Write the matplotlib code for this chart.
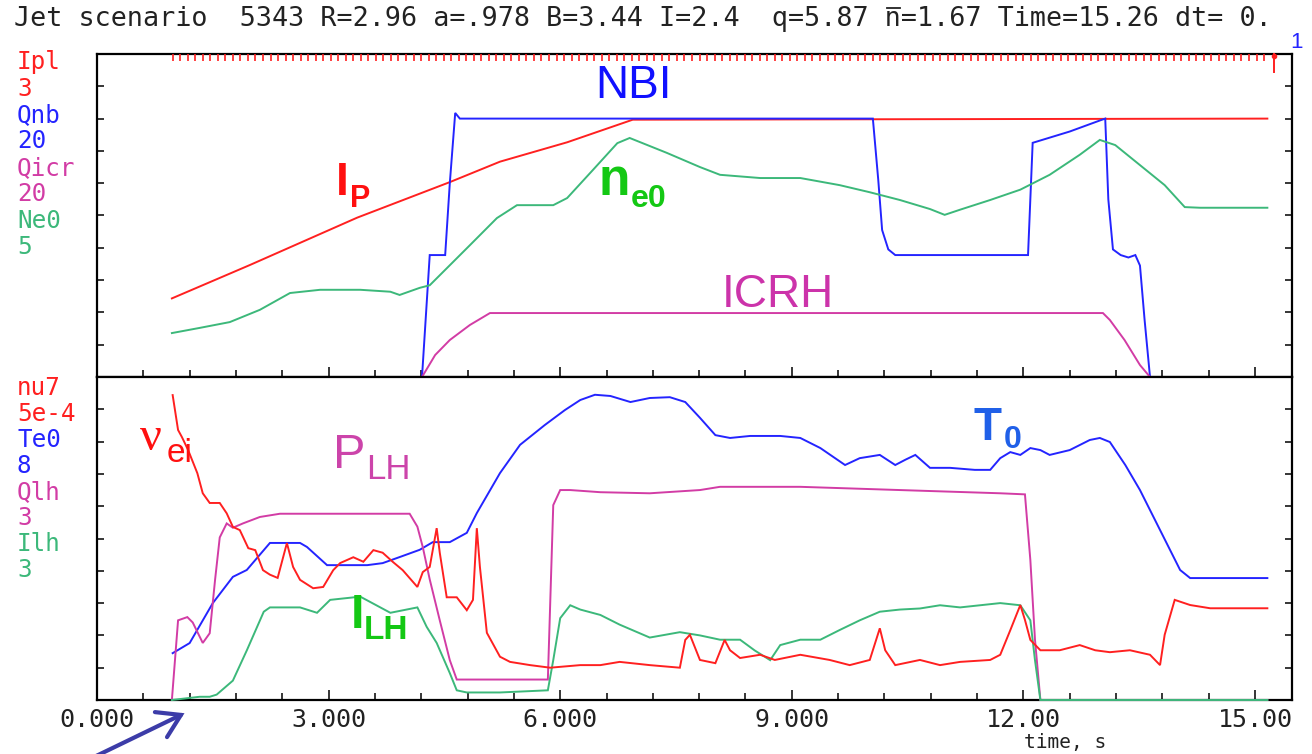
import numpy as np
import matplotlib
matplotlib.use("Agg")
import matplotlib.pyplot as plt
from matplotlib.ticker import MultipleLocator
from matplotlib.lines import Line2D

# ---------------- data (physical units) ----------------
t_ipl = [0.97, 1.98, 3.37, 4.57, 5.22, 6.09, 6.94, 15.16]
ipl = [0.73, 1.04, 1.48, 1.81, 2.00, 2.18, 2.39, 2.40]

t_qnb = [0.97, 4.21, 4.31, 4.51, 4.57, 4.64, 4.70, 10.05, 10.12, 10.17, 10.25, 10.34,
         12.06, 12.12, 12.60, 13.00, 13.06, 13.10, 13.16, 13.26, 13.36, 13.45, 13.51,
         13.57, 13.64, 15.16]
qnb = [0.0, 0.0, 7.55, 7.55, 12.0, 16.35, 16.0, 16.0, 12.2, 9.1, 7.9, 7.55,
       7.55, 14.5, 15.2, 15.9, 16.0, 11.0, 7.9, 7.55, 7.4, 7.55, 6.9,
       3.53, 0.0, 0.0]

t_qicr = [0.97, 4.21, 4.38, 4.57, 4.83, 5.09, 13.03, 13.12, 13.31, 13.51, 13.64, 15.16]
qicr = [0.0, 0.0, 1.36, 2.29, 3.22, 3.96, 3.96, 3.53, 2.29, 0.74, 0.0, 0.0]

t_ne0 = [0.97, 1.33, 1.72, 2.11, 2.50, 2.89, 3.41, 3.80, 3.92, 4.18, 4.31, 4.57, 4.83,
         5.18, 5.44, 5.91, 6.09, 6.42, 6.74, 6.90, 7.38, 7.81, 8.07, 8.59, 9.11, 9.62,
         10.01, 10.40, 10.79, 10.98, 11.18, 11.57, 11.96, 12.34, 12.73, 12.99, 13.19,
         13.51, 13.83, 14.09, 14.29, 15.16]
ne0 = [0.68, 0.76, 0.85, 1.04, 1.30, 1.35, 1.35, 1.32, 1.27, 1.38, 1.42, 1.73, 2.04,
       2.46, 2.66, 2.66, 2.77, 3.20, 3.62, 3.70, 3.47, 3.25, 3.13, 3.08, 3.08, 2.97,
       2.86, 2.74, 2.60, 2.51, 2.59, 2.74, 2.90, 3.13, 3.44, 3.67, 3.59,
       3.28, 2.97, 2.63, 2.62, 2.62]

t_nu = [0.98, 1.05, 1.10, 1.18, 1.30, 1.37, 1.46, 1.59, 1.68, 1.76, 1.85, 1.96, 2.05,
        2.15, 2.24, 2.34, 2.46, 2.54, 2.63, 2.80, 2.93, 3.06, 3.15, 3.32, 3.45, 3.58,
        3.70, 3.83, 3.96, 4.15, 4.22, 4.31, 4.40, 4.44, 4.53, 4.66, 4.79, 4.87, 4.92,
        4.96, 5.05, 5.22, 5.35, 5.61, 5.87, 6.26, 6.52, 6.77, 7.16, 7.55, 7.62, 7.68,
        7.81, 8.01, 8.13, 8.20, 8.33, 8.59, 8.78, 9.11, 9.49, 9.75, 10.01, 10.14, 10.21,
        10.34, 10.66, 10.92, 11.18, 11.57, 11.70, 11.83, 11.96, 12.02, 12.09, 12.22,
        12.47, 12.73, 12.93, 13.12, 13.38, 13.64, 13.77, 13.83, 13.96, 14.16, 14.42,
        14.81, 15.16]
nu7_e4 = [4.72, 4.18, 4.07, 3.87, 3.51, 3.20, 3.05, 3.05, 2.89, 2.68, 2.63, 2.35, 2.32,
          2.01, 1.94, 1.89, 2.43, 2.06, 1.86, 1.73, 1.75, 2.01, 2.12, 2.21, 2.14, 2.32,
          2.28, 2.14, 2.01, 1.75, 1.98, 2.06, 2.66, 2.28, 1.59, 1.59, 1.39, 1.55, 2.66,
          2.06, 1.04, 0.67, 0.59, 0.54, 0.50, 0.54, 0.54, 0.59, 0.54, 0.50, 0.93, 1.01,
          0.62, 0.57, 0.93, 0.77, 0.65, 0.70, 0.62, 0.70, 0.62, 0.54, 0.62, 1.11, 0.77,
          0.54, 0.62, 0.54, 0.59, 0.62, 0.70, 1.08, 1.47, 1.24, 0.93, 0.77,
          0.77, 0.85, 0.77, 0.74, 0.77, 0.70, 0.54, 1.01, 1.55, 1.47, 1.42,
          1.42, 1.42]
nu7 = [v * 1e-4 for v in nu7_e4]

t_te = [0.98, 1.20, 1.50, 1.76, 1.94, 2.24, 2.63, 2.72, 2.98, 3.50, 3.70, 3.92, 4.18,
        4.35, 4.57, 4.79, 4.92, 5.22, 5.48, 5.80, 6.06, 6.26, 6.45, 6.65, 6.91, 7.16,
        7.42, 7.62, 7.81, 8.01, 8.20, 8.46, 8.85, 9.11, 9.37, 9.69, 9.88, 10.14, 10.34,
        10.47, 10.60, 10.79, 11.05, 11.37, 11.57, 11.70, 11.83, 11.96, 12.09, 12.22,
        12.34, 12.60, 12.86, 12.99, 13.12, 13.32, 13.51, 13.77, 14.03, 14.16, 15.16]
te0 = [1.16, 1.41, 2.40, 3.05, 3.22, 3.89, 3.89, 3.79, 3.34, 3.34, 3.39, 3.54, 3.72,
       3.91, 3.91, 4.14, 4.63, 5.62, 6.32, 6.81, 7.18, 7.43, 7.56, 7.53, 7.38, 7.48,
       7.50, 7.38, 6.99, 6.56, 6.49, 6.54, 6.54, 6.49, 6.24, 5.82, 5.99, 6.07, 5.82,
       5.95, 6.07, 5.75, 5.75, 5.70, 5.70, 5.99, 6.14, 6.07, 6.24, 6.19,
       6.07, 6.19, 6.44, 6.49, 6.39, 5.82, 5.20, 4.21, 3.22, 3.02, 3.02]

t_qlh = [0.97, 1.05, 1.17, 1.24, 1.37, 1.46, 1.53, 1.59, 1.68, 1.76, 1.89, 2.11, 2.37,
         4.05, 4.15, 4.22, 4.31, 4.44, 4.57, 4.66, 5.84, 5.91, 6.00, 6.13, 6.52, 7.16,
         7.81, 8.07, 9.11, 10.40, 11.70, 12.02, 12.09, 12.15, 12.22, 15.16]
qlh = [0.0, 0.74, 0.77, 0.72, 0.53, 0.62, 1.12, 1.51, 1.64, 1.60, 1.64, 1.70, 1.73,
       1.73, 1.61, 1.42, 1.12, 0.74, 0.37, 0.19, 0.19, 1.81, 1.95, 1.95, 1.93, 1.92,
       1.95, 1.98, 1.98, 1.95, 1.92, 1.91, 1.30, 0.56, 0.0, 0.0]

t_ilh = [0.97, 1.33, 1.46, 1.55, 1.76, 1.94, 2.16, 2.24, 2.63, 2.85, 3.02, 3.41, 3.80,
         4.15, 4.27, 4.40, 4.57, 4.66, 4.79, 5.22, 5.84, 5.91, 6.00, 6.13, 6.26, 6.52,
         6.77, 7.16, 7.55, 7.81, 8.07, 8.33, 8.52, 8.72, 8.85, 9.11, 9.37, 9.62, 9.88,
         10.14, 10.40, 10.66, 10.92, 11.18, 11.44, 11.70, 11.96, 12.09, 12.15, 12.22, 15.16]
ilh = [0.0, 0.03, 0.03, 0.05, 0.18, 0.46, 0.82, 0.86, 0.86, 0.81, 0.93, 0.96, 0.81,
       0.86, 0.68, 0.53, 0.25, 0.09, 0.07, 0.07, 0.09, 0.37, 0.76, 0.88, 0.84, 0.79,
       0.70, 0.58, 0.63, 0.60, 0.56, 0.56, 0.46, 0.37, 0.51, 0.56, 0.56, 0.65, 0.74,
       0.82, 0.84, 0.85, 0.88, 0.86, 0.88, 0.90, 0.88, 0.74, 0.37, 0.0, 0.0]

# panel scales (as printed at the left)
top_labels = [("Ipl", "3"), ("Qnb", "20"), ("Qicr", "20"), ("Ne0", "5")]
bot_labels = [("nu7", "5e-4"), ("Te0", "8"), ("Qlh", "3"), ("Ilh", "3")]
sc_ipl, sc_qnb, sc_qicr, sc_ne0 = 3.0, 20.0, 20.0, 5.0
sc_nu, sc_te, sc_qlh, sc_ilh = 5e-4, 8.0, 3.0, 3.0

xtick_vals = [0, 3, 6, 9, 12, 15]
xtick_labels = ["0.000", "3.000", "6.000", "9.000", "12.00", "15.00"]

title = "Jet scenario  5343 R=2.96 a=.978 B=3.44 I=2.4  q=5.87 n=1.67 Time=15.26 dt= 0."
title_bar_index = title.index("n=1.67")   # the n carries an overbar

# time-step markers on top edge
mark_start, mark_end, mark_step = 0.98, 15.16, 0.0975
t_now = 15.25

# ---------------- style ----------------
RED = "#ff2020"
BLUE = "#2424ff"
MAG = "#d23ca5"
GRN = "#3cb87a"
MONO = "DejaVu Sans Mono"
SANS = "Liberation Sans"

W, H = 1312, 754
fig = plt.figure(figsize=(W / 100, H / 100), dpi=100)
fig.patch.set_facecolor("white")


def fx(x):
    return x / W


def fy(y):
    return 1 - y / H


L, R = 97, 1292
XMAX = (R - L) / 77.2
ax1 = fig.add_axes([fx(L), fy(377), (R - L) / W, 323 / H])
ax2 = fig.add_axes([fx(L), fy(700), (R - L) / W, 323 / H])

for ax in (ax1, ax2):
    ax.set_xlim(0, XMAX)
    ax.set_ylim(0, 1)
    ax.set_facecolor("white")
    for s in ax.spines.values():
        s.set_linewidth(1.6)
        s.set_color("black")
    ax.xaxis.set_major_locator(MultipleLocator(3))
    ax.xaxis.set_minor_locator(MultipleLocator(0.6))
    ax.yaxis.set_major_locator(MultipleLocator(0.1))
    ax.tick_params(axis="x", which="major", direction="in", length=7.5, width=1.1,
                   bottom=True, top=False, color="black")
    ax.tick_params(axis="x", which="minor", direction="in", length=5, width=1.1,
                   bottom=True, top=False, color="black")
    ax.tick_params(axis="y", which="major", direction="in", length=5, width=1.1,
                   left=True, right=True, labelleft=False, color="black")

ax1.tick_params(axis="x", labelbottom=False)
ax2.set_xticks(xtick_vals)
ax2.set_xticklabels(xtick_labels, family=MONO, fontsize=18, color="#222222")
ax2.tick_params(axis="x", which="major", pad=6)

lw = 1.4
kw = dict(lw=lw, clip_on=False, zorder=3, solid_joinstyle="miter")
ax1.plot(t_ipl, np.array(ipl) / sc_ipl, color=RED, **kw)
ax1.plot(t_qnb, np.array(qnb) / sc_qnb, color=BLUE, **kw)
ax1.plot(t_qicr, np.array(qicr) / sc_qicr, color=MAG, **kw)
ax1.plot(t_ne0, np.array(ne0) / sc_ne0, color=GRN, **kw)

ax2.plot(t_te, np.array(te0) / sc_te, color=BLUE, **kw)
ax2.plot(t_qlh, np.array(qlh) / sc_qlh, color=MAG, **kw)
ax2.plot(t_ilh, np.array(ilh) / sc_ilh, color=GRN, **kw)
ax2.plot(t_nu, np.array(nu7) / sc_nu, color=RED, **kw)

# red time-step marks along top of upper panel
marks = np.arange(mark_start, mark_end, mark_step)
ax1.vlines(marks, 1 - 7 / 323, 1, color=RED, lw=1.2, zorder=4)
ax1.plot([t_now, t_now], [1, 1 - 18 / 323], color=RED, lw=1.4, clip_on=False, zorder=4)
ax1.plot([t_now], [1 - 2 / 323], "o", color=RED, ms=3, clip_on=False, zorder=4)

# title (monospace) with an overbar on n
TITLE_FS = 19.3
char_w = 0.602 * TITLE_FS * 100 / 72          # DejaVu Sans Mono advance in px
fig.text(fx(14), fy(19), title, family=MONO, fontsize=TITLE_FS, color="#222222",
         ha="left", va="center")
bx0 = 14 + title_bar_index * char_w + 2
fig.add_artist(Line2D([fx(bx0), fx(bx0 + char_w - 4)], [fy(8), fy(8)],
                      transform=fig.transFigure, color="#222222", lw=1.3))
fig.text(fx(1297), fy(42), "1", family=SANS, fontsize=16, color=BLUE,
         ha="center", va="center")

# left scale labels
cols = [RED, BLUE, MAG, GRN]
for i, ((nm, sc), c) in enumerate(zip(top_labels, cols)):
    fig.text(fx(17), fy(69 + 26.5 * (2 * i)), nm, family=MONO, fontsize=17.5,
             color=c, ha="left", va="baseline")
    fig.text(fx(17), fy(69 + 26.5 * (2 * i + 1)), sc, family=MONO, fontsize=17.5,
             color=c, ha="left", va="baseline")
for i, ((nm, sc), c) in enumerate(zip(bot_labels, cols)):
    fig.text(fx(17), fy(395 + 26 * (2 * i)), nm, family=MONO, fontsize=17.5,
             color=c, ha="left", va="baseline")
    fig.text(fx(17), fy(395 + 26 * (2 * i + 1)), sc, family=MONO, fontsize=17.5,
             color=c, ha="left", va="baseline")

# x axis title
fig.text(fx(1065), fy(733), "time, s", family=MONO, fontsize=14, color="#222222",
         ha="center", va="top")


# annotations
def lab(x, y, s, size, color, weight="normal", family=SANS):
    fig.text(fx(x), fy(y), s, fontsize=size, color=color, weight=weight,
             family=family, ha="left", va="baseline")


TXT_GRN = "#14c814"
lab(595, 98, "NBI", 33, "#1010ff")
lab(336, 195, "I", 33, "#ff1010", "bold")
lab(350, 207, "P", 22, "#ff1010", "bold")
lab(599, 195, "n", 37, TXT_GRN, "bold")
lab(631, 207, "e0", 23, TXT_GRN, "bold")
lab(722, 307, "ICRH", 33, "#cc33aa")
lab(140, 450, "\u03bd", 35, "#ff1010", family="Liberation Serif")
lab(167, 462, "ei", 24, "#ff1010")
lab(333, 468, "P", 35, "#cc44aa")
lab(366, 479, "LH", 25, "#cc44aa")
lab(973, 440, "T", 33, "#2060e8", "bold")
lab(1004, 448, "0", 23, "#2060e8", "bold")
lab(351, 628, "I", 35, TXT_GRN, "bold")
lab(364, 639, "LH", 24, TXT_GRN, "bold")

# arrow at the bottom-left (open head)
fig.patches.append(matplotlib.patches.FancyArrowPatch(
    (fx(92), fy(758)), (fx(187), fy(712)), transform=fig.transFigure,
    arrowstyle="->,head_length=8,head_width=5", mutation_scale=2.0,
    color="#3c3ca8", lw=3, capstyle="round", joinstyle="miter"))

fig.savefig("out.png", dpi=100, facecolor="white")
